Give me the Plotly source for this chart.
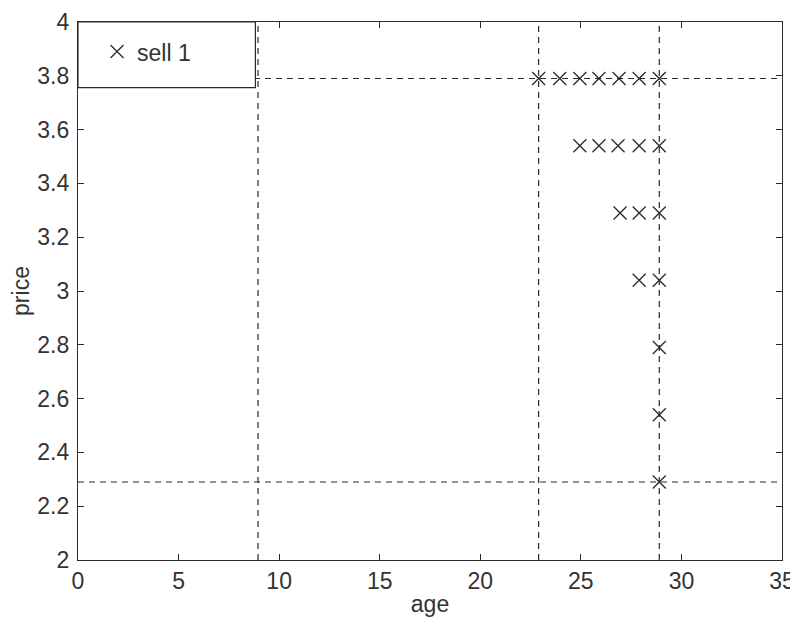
import plotly.graph_objects as go

# data
age = [22.9, 23.95, 24.95, 25.9, 26.9, 27.9, 28.9,
       24.95, 25.9, 26.85, 27.9, 28.9,
       26.95, 27.9, 28.9,
       27.9, 28.9,
       28.9,
       28.9,
       28.9]
price = [3.79, 3.79, 3.79, 3.79, 3.79, 3.79, 3.79,
         3.54, 3.54, 3.54, 3.54, 3.54,
         3.29, 3.29, 3.29,
         3.04, 3.04,
         2.79,
         2.54,
         2.29]
vlines_x = [8.95, 22.9, 28.9]
hlines_y = [3.79, 2.29]
x_ticks = [0, 5, 10, 15, 20, 25, 30, 35]
y_ticks = [2, 2.2, 2.4, 2.6, 2.8, 3, 3.2, 3.4, 3.6, 3.8, 4]
y_tick_text = ["2", "2.2", "2.4", "2.6", "2.8", "3", "3.2", "3.4", "3.6", "3.8", "4"]

FONT = "Liberation Sans, Arial, sans-serif"
INK = "#2a2a2a"
FS = 23

fig = go.Figure()
fig.add_trace(go.Scatter(
    x=age, y=price, mode="markers", name="sell 1",
    marker=dict(symbol="x-thin-open", size=13, color=INK,
                line=dict(width=1.3, color=INK)),
))

shapes = []
for xv in vlines_x:
    shapes.append(dict(type="line", xref="x", yref="y", x0=xv, x1=xv, y0=2, y1=4,
                       line=dict(color=INK, width=1.2, dash="6px,5px"), layer="below"))
for yv in hlines_y:
    shapes.append(dict(type="line", xref="x", yref="y", x0=0, x1=35, y0=yv, y1=yv,
                       line=dict(color=INK, width=1.2, dash="6px,5px"), layer="below"))
# legend box
shapes.append(dict(type="rect", xref="paper", yref="paper", x0=0, x1=0.252, y0=0.878, y1=1,
                   fillcolor="white", line=dict(color=INK, width=1.2), layer="above"))

fig.update_layout(
    width=790, height=612,
    margin=dict(l=70, r=16, t=14, b=60),
    paper_bgcolor="white", plot_bgcolor="white",
    font=dict(family=FONT, size=FS, color="#333333"),
    shapes=shapes,
    showlegend=True,
    legend=dict(x=0.027, y=0.945, xanchor="left", yanchor="middle",
                bgcolor="rgba(0,0,0,0)", borderwidth=0,
                font=dict(family=FONT, size=FS, color="#333333")),
    xaxis=dict(range=[0, 35], tickvals=x_ticks, ticks="inside", ticklen=6,
               showline=True, linecolor=INK, linewidth=1.2, mirror="ticks",
               tickcolor=INK, showgrid=False, zeroline=False, automargin=False,
               ticklabeloverflow="allow",
               title=dict(text="age", standoff=3, font=dict(size=FS))),
    yaxis=dict(range=[2, 4], tickvals=y_ticks, ticktext=y_tick_text,
               ticks="inside", ticklen=6,
               showline=True, linecolor=INK, linewidth=1.2, mirror="ticks",
               tickcolor=INK, showgrid=False, zeroline=False, automargin=False,
               ticklabelstandoff=3, ticklabeloverflow="allow",
               title=dict(text="price", standoff=9, font=dict(size=FS))),
)

fig.write_html("out.html")
